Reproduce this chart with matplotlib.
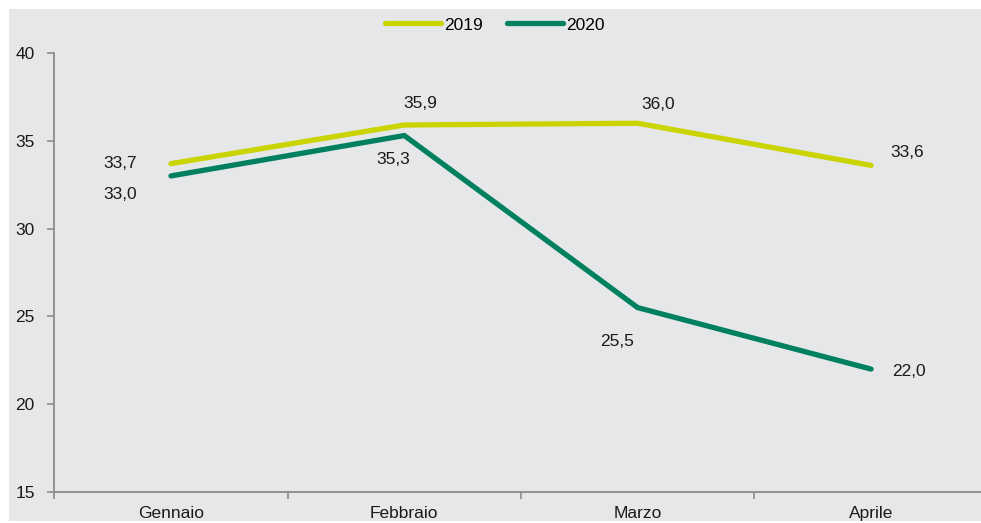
import matplotlib
matplotlib.use("Agg")
import matplotlib.pyplot as plt
from matplotlib.patches import Rectangle

plt.rcParams['font.family'] = ['Liberation Sans', 'DejaVu Sans']

categories = ["Gennaio", "Febbraio", "Marzo", "Aprile"]
series_names = ["2019", "2020"]
values_2019 = [33.7, 35.9, 36.0, 33.6]
values_2020 = [33.0, 35.3, 25.5, 22.0]
labels_2019 = ["33,7", "35,9", "36,0", "33,6"]
labels_2020 = ["33,0", "35,3", "25,5", "22,0"]
yticks = [15, 20, 25, 30, 35, 40]

col19 = "#c9d400"
col20 = "#00805f"
bg = "#e6e7e8"
spine_col = "#8c8c8c"

W, H = 981, 523
fig = plt.figure(figsize=(W/100, H/100), dpi=100)
fig.patch.set_facecolor("white")
fig.patches.append(Rectangle((9/W, 2/H), 1 - 9/W, 1 - 11/H, transform=fig.transFigure,
                             facecolor=bg, edgecolor="none", zorder=-10))

left, right = 54.3/W, 987.7/W
top, bottom = (H-53)/H, (H-492)/H
ax = fig.add_axes([left, bottom, right-left, top-bottom])
ax.set_facecolor("none")

x = list(range(len(categories)))
l1, = ax.plot(x, values_2019, color=col19, lw=3.8, solid_capstyle="round", solid_joinstyle="round", label=series_names[0], clip_on=False)
l2, = ax.plot(x, values_2020, color=col20, lw=3.8, solid_capstyle="round", solid_joinstyle="round", label=series_names[1], clip_on=False)

ax.set_xlim(-0.5, 3.5)
ax.set_ylim(15, 40)
ax.set_yticks(yticks)
ax.set_yticklabels([str(v) for v in yticks])
ax.set_xticks(x)
ax.set_xticklabels(categories)
ax.set_xticks([-0.5, 0.5, 1.5, 2.5], minor=True)

for s in ["top", "right"]:
    ax.spines[s].set_visible(False)
for s in ["left", "bottom"]:
    ax.spines[s].set_color(spine_col)
    ax.spines[s].set_linewidth(1.3)

ax.tick_params(axis="y", length=5, width=1.2, color=spine_col, labelsize=12.5, pad=9, labelcolor="#1a1a1a")
ax.tick_params(axis="x", which="major", length=0, labelsize=12.5, pad=10, labelcolor="#1a1a1a")
ax.tick_params(axis="x", which="minor", length=5, width=1.2, color=spine_col)

off19 = [(-51, 0), (16, 21), (20, 19), (36, 13)]
off20 = [(-51, -19), (-11, -24), (-21, -34), (38, -2)]
for xi, v, t, o in zip(x, values_2019, labels_2019, off19):
    ax.annotate(t, (xi, v), xytext=o, textcoords="offset pixels", ha="center", va="center",
                fontsize=12.5, color="#1a1a1a")
for xi, v, t, o in zip(x, values_2020, labels_2020, off20):
    ax.annotate(t, (xi, v), xytext=o, textcoords="offset pixels", ha="center", va="center",
                fontsize=12.5, color="#1a1a1a")

leg = fig.legend(handles=[l1, l2], loc="center", bbox_to_anchor=(495/W, 1 - 25/H), ncol=2,
                 frameon=False, fontsize=12.5, handlelength=3.2, handletextpad=0.2,
                 columnspacing=1.4, borderaxespad=0)

fig.savefig("out.png", dpi=100)
